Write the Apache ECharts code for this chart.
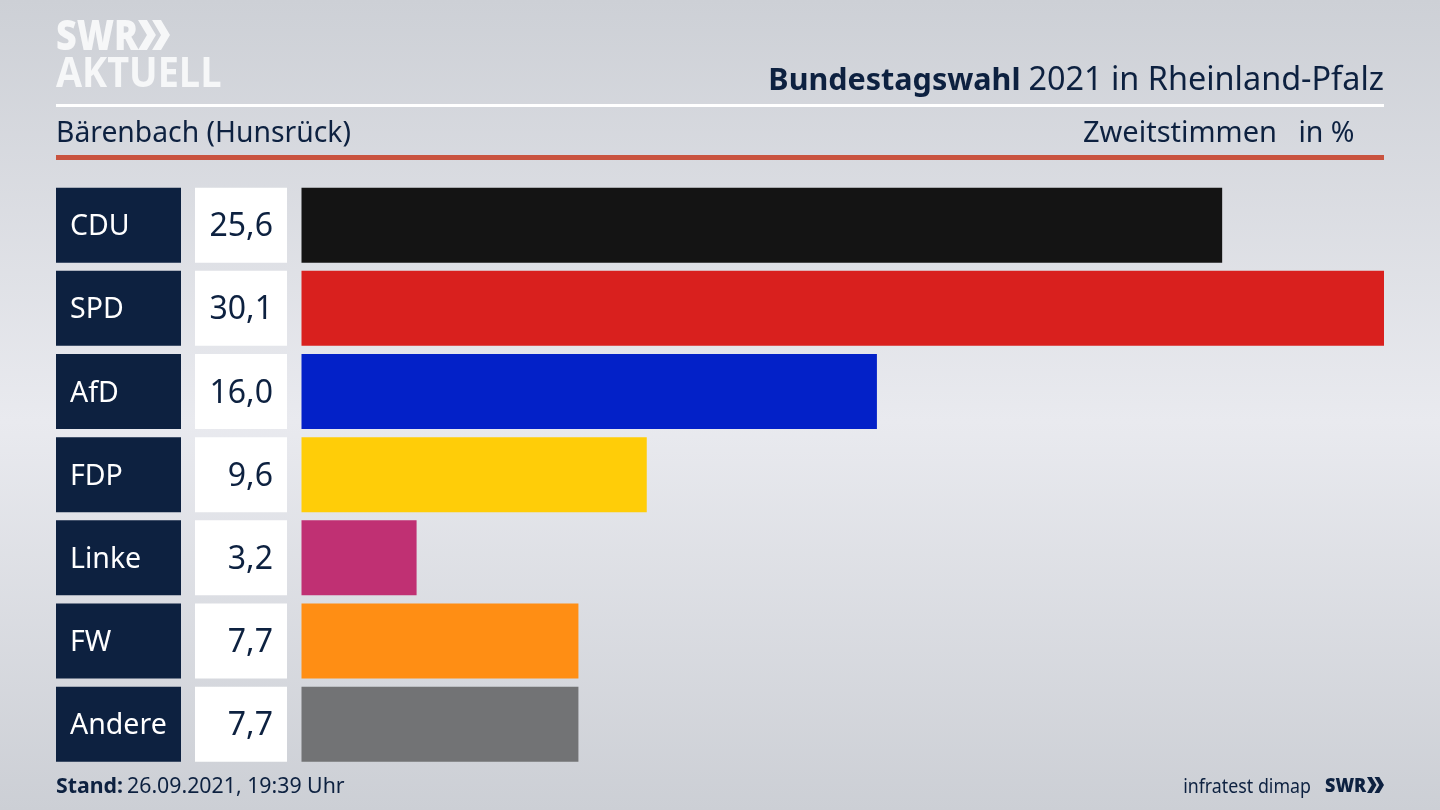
<!DOCTYPE html>
<html>
<head>
<meta charset="utf-8">
<title>Bundestagswahl 2021</title>
<script src="https://cdn.jsdelivr.net/npm/echarts@6/dist/echarts.min.js"></script>
<style>
html,body{margin:0;padding:0;background:#dcdee3;}
#chart{width:1440px;height:810px;}
</style>
</head>
<body>
<div id="chart"></div>
<script>
var parties = ['CDU','SPD','AfD','FDP','Linke','FW','Andere'];
var values = [25.6,30.1,16.0,9.6,3.2,7.7,7.7];
var barColors = ['#141414','#d9201e','#0321c8','#ffcd08','#c03073','#ff8e14','#727375'];

var navy = '#0d2140';
var font = '"Noto Sans"';

function fmt(v){
	return v.toFixed(1).replace('.',',');
}

// doppelter Pfeil vom SWR Logo
function chevrons(x,y,w,h,color){
	var s = w*0.56, t = w*0.28, out = [];
	for(var k=0;k<2;k++){
		var o = x+k*(w-s);
		out.push({
			type:'polygon',
			shape:{points:[[o,y],[o+t,y],[o+s,y+h/2],[o+t,y+h],[o,y+h],[o+s-t,y+h/2]]},
			style:{fill:color}
		});
	}
	return out;
}

function txt(x,y,text,size,color,extra){
	var st = {x:x,y:y,text:text,fill:color,font:'400 '+size+'px '+font,verticalAlign:'middle'};
	for(var k in extra){ st[k]=extra[k]; }
	return {type:'text',style:st};
}

var graphics = [
	{type:'rect',shape:{x:56,y:104,width:1328,height:3},style:{fill:'#ffffff'}},
	{type:'rect',shape:{x:56,y:155,width:1328,height:5},style:{fill:'#c9533f'}},
	{type:'text',x:56,y:23,scaleX:0.855,style:{x:0,y:0,text:'SWR',fill:'#f6f7f8',font:'800 42px "Open Sans"',verticalAlign:'top',lineHeight:30,height:30}},
	{type:'text',x:56,y:60,scaleX:0.9,style:{x:0,y:0,text:'AKTUELL',fill:'#f6f7f8',font:'700 42px "Open Sans"',verticalAlign:'top',lineHeight:30,height:30}},
	{
		type:'text',
		style:{
			x:1384,y:81,align:'right',verticalAlign:'middle',
			rich:{
				b:{font:'700 30.5px '+font,fill:navy,padding:[0,8,0,0]},
				n:{font:'400 32.4px '+font,fill:navy}
			},
			text:'{b|Bundestagswahl}{n|2021 in Rheinland-Pfalz}'
		}
	},
	txt(56,134,'Bärenbach (Hunsrück)',28.3,navy),
	txt(1277,134,'Zweitstimmen',29,navy,{align:'right'}),
	txt(1354.5,134,'in %',28.5,navy,{align:'right'}),
	{
		type:'text',
		style:{
			x:56,y:787,verticalAlign:'middle',
			rich:{
				b:{font:'700 21.3px '+font,fill:navy,padding:[0,4,0,0]},
				n:{font:'400 21.3px '+font,fill:navy}
			},
			text:'{b|Stand:}{n|26.09.2021, 19:39 Uhr}'
		}
	},
	{type:'text',x:1311,y:787,scaleX:0.89,style:{x:0,y:0,text:'infratest dimap',fill:navy,font:'400 20px '+font,align:'right',verticalAlign:'middle'}},
	{type:'text',x:1325,y:786,scaleX:0.9,style:{x:0,y:0,text:'SWR',fill:navy,font:'800 20px "Open Sans"',verticalAlign:'middle'}}
].concat(chevrons(138,20,32,30,'#f6f7f8')).concat(chevrons(1367,777,17,16,navy));

var myChart = echarts.init(document.getElementById('chart'));
var option = {
	animation:false,
	backgroundColor:new echarts.graphic.LinearGradient(0,0,0,1,[
		{offset:0,color:'#cdd0d6'},
		{offset:0.52,color:'#e9eaef'},
		{offset:1,color:'#cccfd5'}
	]),
	grid:{left:301.5,right:56,top:183.6,height:582.2,containLabel:false},
	xAxis:{type:'value',min:0,max:30.1,show:false},
	yAxis:[
		{
			type:'category',
			inverse:true,
			data:parties,
			position:'left',
			offset:120.5,
			axisLine:{show:false},
			axisTick:{show:false},
			splitLine:{show:false},
			axisLabel:{
				interval:0,
				margin:0,
				formatter:function(v){ return '{p|'+v+'}'; },
				rich:{
					p:{
						width:111,height:71,lineHeight:71,padding:[4,0,0,14],
						backgroundColor:navy,color:'#ffffff',
						fontFamily:font,fontSize:28.5,align:'left'
					}
				}
			}
		},
		{
			type:'category',
			inverse:true,
			data:values.map(fmt),
			position:'left',
			offset:0,
			axisLine:{show:false},
			axisTick:{show:false},
			splitLine:{show:false},
			axisLabel:{
				interval:0,
				margin:14.5,
				formatter:function(v){ return '{v|'+v+'}'; },
				rich:{
					v:{
						width:78,height:71,lineHeight:71,padding:[4,14,0,0],
						backgroundColor:'#ffffff',color:navy,
						fontFamily:font,fontSize:32,align:'right'
					}
				}
			}
		}
	],
	series:[{
		type:'bar',
		yAxisIndex:0,
		barWidth:75,
		silent:true,
		data:values.map(function(v,i){
			return {value:v,itemStyle:{color:barColors[i]}};
		})
	}],
	graphic:graphics
};
myChart.setOption(option);
</script>
</body>
</html>
